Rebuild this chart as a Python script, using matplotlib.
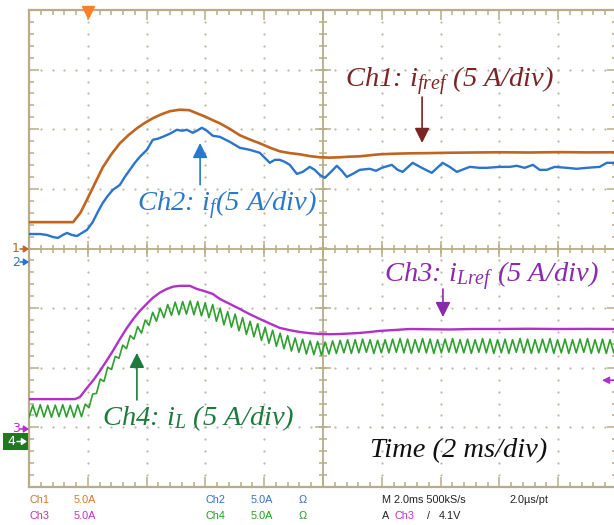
import numpy as np
import matplotlib
matplotlib.use('Agg')
import matplotlib.pyplot as plt
from matplotlib.patches import Rectangle, FancyArrowPatch

# ---------------- data: time in ms, currents in A ----------------
ch1_t = [-2.0, -0.5, -0.25, -0.04, 0.25, 0.51, 0.8, 1.09, 1.38, 1.67, 1.95, 2.21, 2.5, 2.79,
         3.13, 3.45, 3.71, 4.0, 4.25, 4.49, 4.85, 5.17, 5.5, 5.85, 6.2, 6.53, 6.87, 7.21, 7.55,
         7.89, 8.23, 8.57, 8.9, 9.25, 9.6, 9.93, 10.45, 10.95, 11.6, 12.3, 13.1, 14.0, 15.0,
         16.0, 17.0, 17.95]
ch1_i = [2.21, 2.21, 3.0, 4.03, 5.5, 6.81, 7.9, 8.82, 9.5, 10.08, 10.55, 10.92, 11.25, 11.51,
         11.64, 11.6, 11.34, 11.05, 10.76, 10.5, 10.0, 9.5, 9.15, 8.82, 8.45, 8.15, 8.0, 7.9,
         7.75, 7.65, 7.62, 7.65, 7.7, 7.73, 7.82, 7.9, 7.95, 7.98, 8.0, 8.03, 8.05, 8.07, 8.05,
         8.08, 8.06, 8.07]

ch2_t = [-2.0, -1.63, -1.39, -1.19, -1.02, -0.85, -0.71, -0.54, -0.37, -0.2, -0.03, 0.17,
         0.34, 0.51, 0.68, 0.85, 1.09, 1.26, 1.43, 1.6, 1.77, 2.01, 2.21, 2.38, 2.55, 2.79,
         3.03, 3.2, 3.37, 3.57, 3.71, 3.88, 4.05, 4.25, 4.49, 4.83, 5.17, 5.51, 5.85, 6.02,
         6.19, 6.36, 6.53, 6.7, 6.87, 7.11, 7.31, 7.55, 7.72, 7.89, 8.06, 8.27, 8.47, 8.64,
         8.81, 9.01, 9.25, 9.59, 9.8, 10.0, 10.34, 10.54, 10.71, 11.05, 11.36, 11.7, 12.07,
         12.31, 12.55, 12.99, 13.33, 13.57, 14.01, 14.35, 14.59, 14.86, 15.14, 15.37, 15.61,
         15.88, 16.29, 16.63, 16.97, 17.41, 17.65, 17.95]
ch2_i = [2.35, 2.35, 2.27, 2.1, 2.02, 2.27, 2.44, 2.27, 2.18, 2.44, 2.69, 3.36, 4.2, 4.96,
         5.55, 6.05, 6.47, 7.14, 7.73, 8.32, 8.82, 9.41, 10.25, 10.34, 10.5, 10.76, 11.09,
         11.01, 11.09, 10.84, 11.01, 11.26, 11.01, 10.59, 10.5, 10.08, 9.58, 9.41, 9.16, 8.74,
         8.32, 8.57, 8.57, 8.4, 8.15, 7.39, 7.56, 7.98, 7.73, 7.31, 7.06, 7.56, 8.07, 7.65,
         7.14, 7.39, 7.73, 7.82, 7.65, 7.9, 8.15, 7.73, 7.56, 8.32, 7.9, 7.48, 8.32, 7.98,
         7.56, 7.98, 7.9, 7.9, 7.98, 7.98, 8.07, 7.9, 8.15, 7.73, 7.73, 7.98, 7.9, 7.82, 7.9,
         7.98, 8.32, 8.32]

ch3_t = [-2.0, -0.44, -0.27, -0.03, 0.2, 0.41, 0.63, 0.85, 1.09, 1.33, 1.55, 1.77, 2.0, 2.21,
         2.45, 2.69, 2.9, 3.13, 3.47, 3.71, 4.0, 4.25, 4.49, 4.83, 5.17, 5.5, 5.85, 6.2, 6.53,
         6.87, 7.21, 7.55, 7.89, 8.23, 8.57, 8.9, 9.25, 9.6, 9.93, 10.45, 10.95, 11.6, 12.31,
         13.1, 14.01, 15.0, 16.0, 17.0, 17.95]
ch3_i = [2.52, 2.52, 2.69, 3.45, 4.15, 4.87, 5.7, 6.55, 7.55, 8.49, 9.25, 9.92, 10.5, 11.01,
         11.45, 11.76, 11.95, 12.02, 12.02, 11.76, 11.55, 11.34, 10.92, 10.5, 10.08, 9.65, 9.24,
         8.85, 8.49, 8.3, 8.15, 8.05, 7.98, 7.96, 7.98, 8.02, 8.07, 8.15, 8.24, 8.32, 8.4, 8.38,
         8.36, 8.4, 8.4, 8.42, 8.4, 8.41, 8.4]

# Ch4 ripple: current at successive ripple peaks / troughs (one of each per ripple period)
ch4_peaks = [3.0, 3.05, 3.0, 3.02, 3.05, 3.0, 3.03, 3.1, 3.95, 5.2, 6.2, 7.1, 8.05, 8.85, 9.6,
             10.15, 10.8, 11.15, 11.45, 11.65, 11.7, 11.75, 11.7, 11.6, 11.45, 11.15, 10.85,
             10.65, 10.35, 10.05, 9.85, 9.55, 9.3, 9.05, 8.85, 8.65, 8.55, 8.4, 8.35, 8.3,
             8.4, 8.45, 8.5, 8.5, 8.55, 8.5, 8.45, 8.5, 8.55, 8.6, 8.55, 8.5, 8.6, 8.55, 8.5,
             8.55, 8.6, 8.5, 8.55, 8.5, 8.6, 8.55, 8.5, 8.55, 8.5, 8.6, 8.55, 8.5, 8.55, 8.6,
             8.5, 8.55, 8.5, 8.55, 8.6, 8.5, 8.55, 8.5, 8.55]
ch4_troughs = [2.0, 2.05, 2.02, 2.0, 2.05, 2.02, 2.0, 2.05, 2.8, 4.0, 5.0, 6.0, 6.95, 7.75,
               8.55, 9.05, 9.7, 10.05, 10.35, 10.55, 10.6, 10.65, 10.6, 10.5, 10.35, 10.05,
               9.75, 9.55, 9.25, 8.95, 8.75, 8.45, 8.2, 7.95, 7.75, 7.55, 7.45, 7.3, 7.25, 7.2,
               7.3, 7.35, 7.4, 7.35, 7.4, 7.45, 7.35, 7.4, 7.4, 7.45, 7.4, 7.35, 7.45, 7.4,
               7.35, 7.4, 7.45, 7.4, 7.4, 7.35, 7.45, 7.4, 7.35, 7.4, 7.35, 7.45, 7.4, 7.35,
               7.4, 7.45, 7.35, 7.4, 7.35, 7.4, 7.45, 7.35, 7.4, 7.35, 7.4]
ch4_period = 0.255   # ms, ripple period
ch4_start = -2.0     # ms

# scope settings
amps_per_div = 5.0
ms_per_div = 2.0
ground_div = {'ch1': 0.0, 'ch2': -0.227, 'ch3': -3.03, 'ch4': -3.23}

# ---------------- styling ----------------
C1 = '#c0641e'
C2 = '#2a74cc'
C3 = '#b030c8'
C4 = '#2ea02e'
GRID = '#b7ad8a'
DOT = '#bcb8a8'

plt.rcParams['mathtext.fontset'] = 'custom'
plt.rcParams['mathtext.it'] = 'Liberation Serif:italic'
plt.rcParams['mathtext.rm'] = 'Liberation Serif:italic'

W, H = 614, 525
fig = plt.figure(figsize=(W / 100, H / 100), dpi=100)
fig.patch.set_facecolor('white')
left_px, right_px, top_px, bot_px = 29, 617, 10, 487
ax = fig.add_axes([left_px / W, 1 - bot_px / H, (right_px - left_px) / W, (bot_px - top_px) / H])
x0, x1 = -2.0, -2.0 + 10 * ms_per_div
ax.set_xlim(x0, x1)
ax.set_ylim(-4, 4)
ax.set_facecolor('white')
for s in ax.spines.values():
    s.set_color(GRID)
    s.set_linewidth(1.6)

ax.set_xticks(np.arange(x0, x1 + 0.01, ms_per_div))
ax.set_xticks(np.arange(x0, x1 + 0.01, ms_per_div / 5), minor=True)
ax.set_yticks(np.arange(-4, 4.01, 1))
ax.set_yticks(np.arange(-4, 4.01, 0.2), minor=True)
ax.tick_params(which='both', direction='in', top=True, right=True, bottom=True, left=True,
               labelbottom=False, labelleft=False, color=GRID, width=1.1)
ax.tick_params(which='major', length=7)
ax.tick_params(which='minor', length=3.5)

# dotted graticule
xmaj = np.arange(x0 + ms_per_div, x1 - 0.01, ms_per_div)
ymaj = np.arange(-3, 3.01, 1)
xsub = np.arange(x0, x1 + 0.01, ms_per_div / 5)
ysub = np.arange(-4, 4.01, 0.2)
xc = x0 + 5 * ms_per_div
for xv in xmaj:
    if abs(xv - xc) > 1e-6:
        ax.plot(np.full_like(ysub, xv), ysub, ls='none', marker='o', ms=1.6, color=DOT, mew=0, zorder=1)
for yv in ymaj:
    if abs(yv) > 1e-6:
        ax.plot(xsub, np.full_like(xsub, yv), ls='none', marker='o', ms=1.6, color=DOT, mew=0, zorder=1)

# centre cross with ticks
ax.axhline(0, color=GRID, lw=1.3, zorder=1)
ax.axvline(xc, color=GRID, lw=1.3, zorder=1)
ax.plot(xsub, np.zeros_like(xsub), ls='none', marker='|', ms=6, mew=1.1, color=GRID, zorder=1)
ax.plot(xmaj, np.zeros_like(xmaj), ls='none', marker='|', ms=11, mew=1.1, color=GRID, zorder=1)
ax.plot(np.full_like(ysub, xc), ysub, ls='none', marker='_', ms=6, mew=1.1, color=GRID, zorder=1)
ax.plot(np.full_like(ymaj, xc), ymaj, ls='none', marker='_', ms=11, mew=1.1, color=GRID, zorder=1)


def to_div(vals, ch):
    return ground_div[ch] + np.asarray(vals) / amps_per_div


# traces
ax.plot(ch2_t, to_div(ch2_i, 'ch2'), color=C2, lw=1.7, zorder=3)
ax.plot(ch1_t, to_div(ch1_i, 'ch1'), color=C1, lw=1.9, zorder=3)
n4 = min(len(ch4_peaks), len(ch4_troughs))
t_tr = ch4_start + ch4_period * np.arange(n4)
t_pk = t_tr + ch4_period / 2
t4 = np.column_stack([t_tr, t_pk]).ravel()
i4 = np.column_stack([ch4_troughs[:n4], ch4_peaks[:n4]]).ravel()
ax.plot(t4, to_div(i4, 'ch4'), color=C4, lw=1.2, zorder=3)
ax.plot(ch3_t, to_div(ch3_i, 'ch3'), color=C3, lw=1.7, zorder=3)

# annotations
serif = dict(family='Liberation Serif', style='italic', fontsize=20.5)
ax.text(8.75, 2.71, r'Ch1: $i_{fref}$ (5 A/div)', color='#7a2424', ha='left', va='baseline', **serif)
ax.text(1.67, 0.63, r'Ch2: $i_f$(5 A/div)', color='#2a78cc', ha='left', va='baseline', **serif)
ax.text(10.07, -0.56, r'Ch3: $i_{Lref}$ (5 A/div)', color='#8a2aaa', ha='left', va='baseline', **serif)
ax.text(0.48, -2.96, r'Ch4: $i_L$ (5 A/div)', color='#1e7a3c', ha='left', va='baseline', **serif)
ax.text(9.6, -3.5, 'Time (2 ms/div)', color='#111111', ha='left', va='baseline', **serif)

def arrow(x, ytail, ytip, color):
    ax.annotate('', xy=(x, ytip), xytext=(x, ytail),
                arrowprops=dict(arrowstyle='-|>,head_length=0.9,head_width=0.45', color=color,
                                lw=1.2, shrinkA=0, shrinkB=0), zorder=5)

arrow(11.37, 2.54, 1.77, '#7a2424')
arrow(3.82, 1.07, 1.77, '#2a78cc')
arrow(12.08, -0.68, -1.15, '#8a2aaa')
arrow(1.67, -2.54, -1.75, '#1e7a3c')

# trigger markers
ax.plot(0, 3.97, marker='v', ms=8, color='#ff7f27', clip_on=False, zorder=6)
ax.annotate('', xy=(17.49, -2.21), xytext=(18.2, -2.21), annotation_clip=False,
            arrowprops=dict(arrowstyle='-|>,head_length=0.4,head_width=0.2', color=C3, lw=1.2,
                            shrinkA=0, shrinkB=0))

# channel ground markers (left)
def fpx(x, y):
    return (x / W, 1 - y / H)

def fig_arrow(xa, xb, ypx, color, z=9):
    fig.add_artist(FancyArrowPatch(fpx(xa, ypx), fpx(xb, ypx), transform=fig.transFigure,
                                   arrowstyle='-|>,head_length=3,head_width=2', color=color,
                                   lw=1.1, shrinkA=0, shrinkB=0, zorder=z))

def gmark(label, ypx, color):
    fig.text(*fpx(16, ypx), label, color=color, fontsize=9, ha='center', va='center',
             family='DejaVu Sans')
    fig_arrow(20, 29, ypx, color)

gmark('1', 249, C1)
gmark('2', 262, C2)
gmark('3', 429, C3)
fig.add_artist(Rectangle(fpx(3, 450), 25 / W, 17 / H, transform=fig.transFigure,
                         facecolor='#1f7a1f', edgecolor='none', zorder=8))
fig.text(*fpx(11, 441.5), '4', color='white', fontsize=9, ha='center', va='center', zorder=9)
fig_arrow(17, 27, 441.5, 'white', z=10)

# status lines at the bottom
small = dict(fontsize=7.8, family='Liberation Sans', va='center', ha='left')
fig.text(*fpx(29, 500), 'Ch1', color='#d07a30', **small)
fig.text(*fpx(74, 500), '5.0A', color='#d07a30', **small)
fig.text(*fpx(206, 500), 'Ch2', color='#3070d0', **small)
fig.text(*fpx(251, 500), '5.0A', color='#3070d0', **small)
fig.text(*fpx(299, 500), 'Ω', color='#3070d0', **small)
fig.text(*fpx(382, 500), 'M 2.0ms 500kS/s', color='#222222', **small)
fig.text(*fpx(509, 500), '2.0µs/pt', color='#222222', **small)
fig.text(*fpx(29, 516), 'Ch3', color='#c030c0', **small)
fig.text(*fpx(74, 516), '5.0A', color='#c030c0', **small)
fig.text(*fpx(206, 516), 'Ch4', color='#20a020', **small)
fig.text(*fpx(251, 516), '5.0A', color='#20a020', **small)
fig.text(*fpx(299, 516), 'Ω', color='#20a020', **small)
fig.text(*fpx(382, 516), 'A', color='#222222', **small)
fig.text(*fpx(395, 516), 'Ch3', color='#c030c0', **small)
fig.text(*fpx(427, 516), '/', color='#222222', **small)
fig.text(*fpx(439, 516), '4.1V', color='#222222', **small)

fig.savefig('out.png', dpi=100, facecolor='white')
